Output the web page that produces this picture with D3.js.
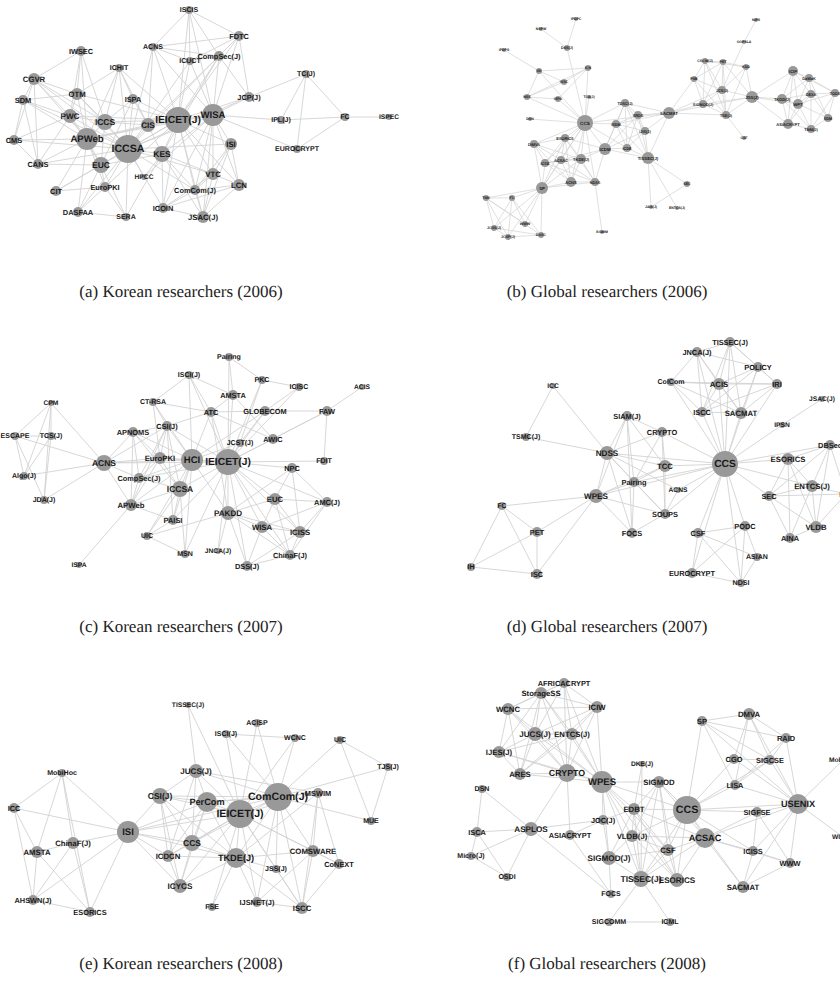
<!DOCTYPE html>
<html lang="en">
  <head>
    <meta charset="UTF-8">
    <title>Venue co-authorship networks</title>
    <style>
      body { margin: 0; background: #fff; }
      .link { stroke: #d2d2d2; stroke-width: 0.9px; fill: none; }
      .node { fill: #999; }
      .label { font-family: "Liberation Sans", Arial, sans-serif; font-weight: bold; fill: #1a1a1a; }
      .caption { font-family: "Liberation Serif", "DejaVu Serif", serif; font-size: 17px; fill: #222; }
    </style>
  </head>
  <body>
    <script src="https://d3js.org/d3.v7.min.js"></script>
    <script>
      // node = [name, x, y, size] in each panel's own layout space (420 x 335)
      const nodesA = [
        ["ISCIS",189,10,4],["ACNS",153,47,4],["IWSEC",81,51,5],["ICHIT",119,68,4],["ICUCT",190,61,4],
        ["CompSec(J)",219,56,5],["FDTC",239,36,5],["CGVR",34,79,6],["OTM",77,94,6],["SDM",23,100,5],
        ["ISPA",133,99,5],["PWC",70,116,7],["ICCS",105,122,8],["CIS",148,125,7],["IEICET(J)",178,120,13],
        ["WISA",213,115,11],["CMS",14,140,5],["APWeb",87,139,11],["ICCSA",128,149,14],["KES",162,154,8],
        ["CANS",38,164,5],["EUC",101,165,8],["HPCC",144,177,3],["EuroPKI",105,187,5],["CIT",56,191,5],
        ["ComCom(J)",195,190,5],["VTC",213,174,6],["ISI",231,144,6],["LCN",239,185,6],["DASFAA",78,212,5],
        ["SERA",126,217,4],["ICOIN",163,208,5],["JSAC(J)",203,217,6],["JCP(J)",249,97,5],["TC(J)",306,74,4],
        ["IPL(J)",281,120,4],["EUROCRYPT",297,149,4],["FC",345,117,4],["ISPEC",389,117,3]
      ];
      const edgesA = [
        "ISCIS: ACNS ICUCT CompSec(J) FDTC IEICET(J) WISA",
        "ACNS: ICUCT CompSec(J) FDTC CIS IEICET(J) WISA ICCSA",
        "FDTC: CompSec(J) JCP(J) IEICET(J) WISA ICUCT",
        "CompSec(J): ICUCT IEICET(J) WISA JCP(J) KES ICCSA CIS",
        "ICUCT: IEICET(J) WISA ICCSA",
        "JCP(J): TC(J) WISA IEICET(J) ICCSA",
        "TC(J): IPL(J) EUROCRYPT FC",
        "IPL(J): WISA FC",
        "FC: EUROCRYPT ISPEC",
        "EUROCRYPT: WISA",
        "WISA: IEICET(J) ICCSA KES ISI VTC LCN ComCom(J) JSAC(J) CIS APWeb ICOIN HPCC",
        "IEICET(J): ICCSA CIS KES APWeb ICCS ISPA ICOIN JSAC(J) ComCom(J) VTC ISI LCN EUC OTM PWC ICHIT EuroPKI",
        "ICCSA: APWeb ICCS EUC EuroPKI SERA DASFAA CIT KES CIS ISPA ICHIT OTM PWC CGVR HPCC ICOIN ComCom(J) VTC ISI CANS SDM CMS",
        "IWSEC: OTM PWC CGVR ICCS APWeb",
        "ICHIT: OTM ICCS ISPA CIS APWeb",
        "CGVR: SDM OTM PWC CMS CANS APWeb ICCS",
        "SDM: OTM PWC CMS CANS APWeb",
        "CMS: PWC APWeb CANS",
        "CANS: APWeb PWC EUC",
        "PWC: OTM ICCS APWeb EUC",
        "OTM: ICCS APWeb",
        "ISPA: CIS ICCS EUC",
        "CIT: APWeb EUC EuroPKI",
        "DASFAA: SERA EUC APWeb EuroPKI",
        "SERA: EuroPKI EUC KES",
        "EuroPKI: EUC APWeb",
        "EUC: APWeb ICCS",
        "KES: ICOIN ComCom(J) VTC JSAC(J) EUC HPCC CIS",
        "ICOIN: ComCom(J) JSAC(J) LCN VTC",
        "ComCom(J): JSAC(J) VTC LCN ISI",
        "JSAC(J): VTC LCN ISI",
        "VTC: ISI LCN",
        "LCN: ISI",
        "CIS: ICCS APWeb",
        "ICCS: APWeb"
      ];

      const nodesB = [
        ["IPDPC",156,19,2],["NSPW",121,29,2],["DSS(J)",147,48,3],["IPDPS",84,50,2],["ISI",119,71,3],
        ["ICN",168,68,3],["ISSC",144,82,3],["NSS",107,97,3],["ISPA",138,99,3],["TCS(J)",169,97,2],
        ["DSN",110,119,2],["CCS",165,123,8],["TDSC(J)",205,103,4],["ISDM",196,124,4],["ESORICS",145,138,4],
        ["DIMVA",114,144,4],["ICDM",185,149,6],["ICDE",207,148,4],["ACSAC",141,160,4],["TKDE(J)",161,159,5],
        ["ICSE",125,163,4],["SP",122,188,6],["ACNS",151,182,5],["NDSS",175,182,4],["SIGMM",182,232,2],
        ["TNN",66,198,3],["FC",92,198,3],["WWW",105,224,3],["JCSS(J)",74,228,3],["JCSP(J)",88,237,3],
        ["DASC",121,235,3],["NIPS",336,20,2],["OOPSLA",324,42,2],["CSCW(J)",285,61,3],["PET",303,62,3],
        ["KDD",326,67,3],["PSB",274,79,3],["JCS(J)",302,90,4],["JSS(J)",332,97,6],["SIGMOD(J)",283,104,4],
        ["SACMAT",249,113,6],["TSE(J)",306,115,4],["CSF",324,138,2],["SRDS",218,115,4],["IJIS(J)",225,131,4],
        ["TISSEC(J)",228,158,6],["SEC",267,184,3],["JAIS(J)",231,207,2],["ENTCS(J)",257,208,2],["ICIP",373,71,5],
        ["DaWaK",389,78,4],["TODS",415,93,4],["DEXA",391,94,4],["TKDD(J)",362,99,5],["WPT",378,104,5],
        ["SDM",408,118,4],["ASIACRYPT",368,124,5],["TMM(J)",391,129,4]
      ];
      const edgesB = [
        "IPDPC: DSS(J)", "NSPW: DSS(J)", "DSS(J): CCS", "IPDPS: ISI",
        "ISI: ICN CCS ISSC NSS", "ICN: ISSC CCS NSS ISPA", "NSS: ISSC ISPA CCS", "ISPA: CCS",
        "TCS(J): CCS", "DSN: CCS",
        "CCS: TDSC(J) ISDM ICDM ICDE ESORICS DIMVA ACSAC TKDE(J) ICSE NDSS ACNS SACMAT SP",
        "TDSC(J): ISDM ICDM ICDE SRDS IJIS(J) SACMAT TISSEC(J)",
        "ISDM: ICDM ICDE SRDS IJIS(J) TISSEC(J) SACMAT",
        "ICDM: ICDE IJIS(J) TISSEC(J) NDSS TKDE(J) ACSAC ESORICS SRDS",
        "ICDE: IJIS(J) TISSEC(J) SRDS", "SRDS: IJIS(J) TISSEC(J) SACMAT", "IJIS(J): TISSEC(J) SACMAT",
        "TISSEC(J): SEC JAIS(J) ENTCS(J) SACMAT", "SEC: JAIS(J)",
        "SACMAT: PSB SIGMOD(J) TSE(J) JSS(J) JCS(J)",
        "PSB: CSCW(J) PET JCS(J) SIGMOD(J) TSE(J)",
        "CSCW(J): PET KDD JCS(J) SIGMOD(J) TSE(J)",
        "PET: KDD JCS(J) JSS(J) TSE(J) SIGMOD(J)",
        "KDD: JSS(J) JCS(J) TSE(J)",
        "JCS(J): SIGMOD(J) TSE(J) JSS(J) OOPSLA",
        "SIGMOD(J): TSE(J) JSS(J)", "TSE(J): JSS(J) CSF", "OOPSLA: NIPS",
        "JSS(J): ICIP TKDD(J) ASIACRYPT WPT",
        "ICIP: DaWaK TKDD(J) WPT DEXA ASIACRYPT TODS",
        "DaWaK: DEXA TODS WPT TKDD(J) SDM",
        "TODS: DEXA SDM TMM(J) WPT",
        "DEXA: TKDD(J) WPT SDM TMM(J) ASIACRYPT",
        "TKDD(J): WPT ASIACRYPT TMM(J)", "WPT: ASIACRYPT TMM(J) SDM", "ASIACRYPT: TMM(J)", "TMM(J): SDM",
        "ESORICS: DIMVA ACSAC TKDE(J) ICSE ACNS NDSS SP",
        "DIMVA: ACSAC ICSE SP ACNS TKDE(J)",
        "ACSAC: TKDE(J) ICSE ACNS NDSS SP",
        "TKDE(J): ICSE ACNS NDSS SP",
        "ICSE: ACNS SP NDSS", "ACNS: NDSS SP", "NDSS: SIGMM SP",
        "SP: TNN FC WWW DASC JCSP(J) JCSS(J)",
        "TNN: FC JCSS(J) WWW DASC JCSP(J)",
        "FC: JCSS(J) JCSP(J) WWW DASC",
        "JCSS(J): JCSP(J) DASC", "JCSP(J): DASC"
      ];

      const nodesC = [
        ["ISCI(J)",189,40,4],["CPM",51,68,3],["CT-RSA",153,67,4],["ATC",211,77,5],["ESCAPE",15,101,4],
        ["TCS(J)",51,101,4],["APNOMS",133,97,5],["CSI(J)",167,91,5],["ACNS",104,128,8],["EuroPKI",160,123,6],
        ["HCI",192,125,11],["IEICET(J)",228,127,13],["Algo(J)",24,141,4],["CompSec(J)",139,143,5],["ICCSA",180,154,8],
        ["JDA(J)",44,165,4],["APWeb",131,170,6],["PAISI",173,185,5],["UIC",147,201,4],["MSN",185,219,4],
        ["ISPA",79,230,3],["Pairing",229,22,4],["PKC",262,45,4],["ICISC",299,52,4],["ACIS",362,52,3],
        ["AMSTA",233,60,5],["GLOBECOM",265,76,5],["FAW",327,76,5],["AWIC",273,104,5],["JCST(J)",240,108,4],
        ["FDIT",324,126,4],["NPC",292,133,5],["EUC",275,164,6],["AMC(J)",327,167,5],["PAKDD",228,178,7],
        ["WISA",262,192,6],["ICISS",300,197,6],["JNCA(J)",218,216,3],["ChinaF(J)",290,220,5],["DSS(J)",247,231,5]
      ];
      const edgesC = [
        "CPM: ESCAPE Algo(J) JDA(J) ACNS TCS(J)",
        "ESCAPE: TCS(J) Algo(J) JDA(J) ACNS",
        "TCS(J): Algo(J) JDA(J)", "Algo(J): ACNS", "JDA(J): ACNS",
        "ACNS: APNOMS EuroPKI HCI CompSec(J) APWeb CSI(J) IEICET(J)",
        "ISPA: APWeb",
        "ISCI(J): CT-RSA HCI IEICET(J) ATC AMSTA",
        "CT-RSA: CSI(J) ATC HCI EuroPKI",
        "ATC: HCI IEICET(J) CSI(J) PAKDD AWIC GLOBECOM",
        "APNOMS: CSI(J) EuroPKI HCI CompSec(J) APWeb ICCSA",
        "CSI(J): EuroPKI HCI IEICET(J) ICCSA CompSec(J) APWeb PAISI",
        "EuroPKI: HCI CompSec(J) APWeb ICCSA IEICET(J)",
        "HCI: IEICET(J) ICCSA CompSec(J) APWeb PAISI MSN UIC PAKDD GLOBECOM JCST(J)",
        "IEICET(J): Pairing AMSTA PKC GLOBECOM JCST(J) AWIC ICISC FAW FDIT NPC EUC AMC(J) PAKDD WISA ICISS ChinaF(J) DSS(J) JNCA(J) ICCSA CompSec(J) PAISI MSN",
        "Pairing: PKC AMSTA", "PKC: ICISC JCST(J)", "ICISC: GLOBECOM", "ACIS: FAW",
        "FAW: GLOBECOM FDIT AWIC", "AMSTA: AWIC ATC", "GLOBECOM: JCST(J)",
        "NPC: EUC AMC(J) ICISS PAKDD",
        "EUC: AMC(J) ICISS WISA PAKDD ChinaF(J)",
        "AMC(J): ICISS WISA ChinaF(J)",
        "PAKDD: WISA ICISS DSS(J) JNCA(J) ChinaF(J)",
        "WISA: ICISS DSS(J) ChinaF(J)", "ICISS: ChinaF(J) DSS(J)", "DSS(J): ChinaF(J)",
        "ICCSA: PAISI MSN UIC APWeb CompSec(J)",
        "UIC: MSN PAISI PAKDD", "APWeb: PAISI CompSec(J)"
      ];

      const nodesD = [
        ["ICC",133,51,3],["SIAM(J)",207,81,5],["TSMC(J)",106,102,4],["NDSS",187,118,7],["Pairing",214,147,5],
        ["WPES",176,161,7],["FC",82,171,4],["PET",117,197,5],["IH",51,232,4],["ISC",117,239,5],
        ["FOCS",212,198,5],["TISSEC(J)",310,7,5],["JNCA(J)",277,17,5],["POLICY",338,32,5],["ColCom",251,47,4],
        ["ACIS",299,49,6],["IRI",357,49,5],["ISCC",282,77,5],["SACMAT",321,78,6],["JSAC(J)",402,64,3],
        ["CRYPTO",242,97,5],["IPSN",362,90,3],["DBSec",410,110,5],["CCS",305,129,13],["ESORICS",368,124,6],
        ["TCC",245,131,6],["ACNS",258,155,3],["ENTCS(J)",392,151,6],["SEC",349,161,5],["IFIP",426,159,5],
        ["SOUPS",245,179,5],["PODC",325,191,5],["CSF",278,198,5],["VLDB",396,192,6],["AINA",370,203,5],
        ["ASIAN",337,222,4],["EUROCRYPT",272,238,5],["NDSI",321,248,4]
      ];
      const edgesD = [
        "ICC: TSMC(J) NDSS", "TSMC(J): NDSS",
        "NDSS: SIAM(J) CRYPTO TCC Pairing WPES FOCS SOUPS CCS ACNS",
        "SIAM(J): CRYPTO TCC Pairing WPES FOCS",
        "WPES: FC PET ISC Pairing TCC SOUPS FOCS CCS",
        "FC: PET IH ISC", "PET: IH ISC", "IH: ISC",
        "CRYPTO: TCC Pairing SOUPS CCS", "TCC: Pairing SOUPS CCS",
        "Pairing: FOCS SOUPS CCS", "SOUPS: CCS FOCS ACNS", "ACNS: CCS",
        "CCS: JNCA(J) TISSEC(J) ColCom ACIS ISCC SACMAT POLICY IRI IPSN ESORICS SEC ENTCS(J) DBSec CSF PODC NDSI EUROCRYPT",
        "TISSEC(J): JNCA(J) POLICY ACIS ISCC SACMAT IRI",
        "JNCA(J): POLICY ColCom ACIS ISCC SACMAT",
        "POLICY: ACIS IRI SACMAT ISCC", "ColCom: ACIS ISCC SACMAT IRI",
        "ACIS: IRI ISCC SACMAT", "IRI: SACMAT ISCC", "ISCC: SACMAT",
        "IPSN: JSAC(J)",
        "ESORICS: DBSec ENTCS(J) SEC VLDB AINA",
        "DBSec: ENTCS(J) SEC VLDB IFIP", "ENTCS(J): SEC VLDB AINA IFIP",
        "SEC: VLDB AINA IFIP", "VLDB: AINA IFIP",
        "CSF: PODC ASIAN EUROCRYPT NDSI", "PODC: ASIAN EUROCRYPT NDSI",
        "ASIAN: NDSI", "EUROCRYPT: NDSI"
      ];

      const nodesE = [
        ["TISSEC(J)",188,35,3],["MobiHoc",62,103,4],["JUCS(J)",196,101,7],["ICC",14,138,5],["CSI(J)",160,126,8],
        ["PerCom",207,132,10],["ISI",128,162,11],["ChinaF(J)",73,173,6],["AMSTA",37,182,6],["CCS",192,173,8],
        ["ICDCN",168,186,6],["ICYCS",180,216,7],["AHSWN(J)",33,230,5],["ESORICS",90,242,5],["FSE",212,237,4],
        ["ACISP",257,53,4],["ISCI(J)",226,64,4],["WCNC",295,68,4],["UIC",340,70,4],["TJS(J)",388,97,4],
        ["ComCom(J)",278,127,14],["MSWIM",318,123,5],["IEICET(J)",240,144,14],["MUE",371,151,4],["COMSWARE",313,181,6],
        ["TKDE(J)",236,188,10],["CoNEXT",339,194,5],["JSS(J)",276,199,4],["IJSNET(J)",257,232,5],["ISCC",302,238,6]
      ];
      const edgesE = [
        "MobiHoc: ICC AMSTA ChinaF(J) ISI ESORICS",
        "ICC: ISI AMSTA AHSWN(J)",
        "AMSTA: ChinaF(J) AHSWN(J) ESORICS",
        "ChinaF(J): ISI AHSWN(J) ESORICS",
        "AHSWN(J): ESORICS ISI", "ESORICS: ISI",
        "ISI: CSI(J) PerCom IEICET(J) CCS ICDCN ICYCS TKDE(J) ComCom(J)",
        "TISSEC(J): JUCS(J) IEICET(J)",
        "JUCS(J): CSI(J) PerCom IEICET(J) CCS ComCom(J) ICDCN MSWIM",
        "CSI(J): PerCom IEICET(J) CCS ICDCN ICYCS ComCom(J) TKDE(J)",
        "PerCom: IEICET(J) CCS ICDCN ComCom(J) TKDE(J) ICYCS MSWIM",
        "IEICET(J): ComCom(J) TKDE(J) ISCI(J) ACISP CCS ICDCN ICYCS FSE JSS(J) IJSNET(J) ISCC COMSWARE MSWIM WCNC CoNEXT",
        "ComCom(J): ISCI(J) ACISP WCNC UIC MSWIM MUE COMSWARE TKDE(J) ISCC JSS(J) IJSNET(J) TJS(J) CCS",
        "ISCI(J): WCNC", "UIC: TJS(J) MUE", "TJS(J): MUE",
        "MSWIM: COMSWARE ISCC CoNEXT TKDE(J)",
        "COMSWARE: CoNEXT ISCC TKDE(J) IJSNET(J)", "CoNEXT: ISCC",
        "TKDE(J): JSS(J) IJSNET(J) ISCC FSE ICYCS CCS ICDCN",
        "IJSNET(J): ISCC", "JSS(J): ISCC", "CCS: ICDCN ICYCS", "ICDCN: ICYCS"
      ];

      const nodesF = [
        ["AFRICACRYPT",144,13,5],["StorageSS",121,23,6],["WCNC",88,39,6],["ICIW",177,37,6],["JUCS(J)",115,64,7],
        ["ENTCS(J)",152,64,6],["IJES(J)",79,82,6],["ARES",100,104,6],["CRYPTO",147,103,9],["WPES",182,112,11],
        ["DSN",62,119,4],["JOC(J)",183,150,5],["ISCA",57,162,5],["ASPLOS",111,159,7],["ASIACRYPT",150,165,5],
        ["Micro(J)",51,186,4],["SIGMOD(J)",189,188,7],["OSDI",87,207,4],["FOCS",191,224,4],["SIGCOMM",189,252,4],
        ["DMVA",329,44,6],["SP",282,51,5],["RAID",366,68,5],["DKE(J)",222,94,3],["CGO",314,89,5],
        ["SIGCSE",350,90,5],["MobiHoc",423,90,3],["SIGMOD",239,112,6],["LISA",315,115,5],["USENIX",378,134,10],
        ["CCS",267,140,14],["EDBT",214,139,6],["SIGFSE",337,142,5],["VLDB(J)",212,166,6],["ACSAC",285,168,10],
        ["WISEC",423,167,3],["CSF",248,180,6],["ICISS",333,181,5],["WWW",370,193,5],["TISSEC(J)",221,209,8],
        ["ESORICS",257,210,7],["SACMAT",323,217,6],["ICML",250,252,4]
      ];
      const edgesF = [
        "AFRICACRYPT: StorageSS ICIW JUCS(J) ENTCS(J) WCNC CRYPTO WPES",
        "StorageSS: WCNC ICIW JUCS(J) ENTCS(J) ARES CRYPTO WPES IJES(J)",
        "WCNC: ICIW JUCS(J) IJES(J) ARES CRYPTO WPES",
        "ICIW: JUCS(J) ENTCS(J) CRYPTO WPES ARES",
        "JUCS(J): ENTCS(J) IJES(J) ARES CRYPTO WPES",
        "ENTCS(J): ARES CRYPTO WPES IJES(J)",
        "IJES(J): ARES CRYPTO WPES", "ARES: CRYPTO WPES",
        "CRYPTO: WPES ASPLOS ASIACRYPT",
        "DSN: ISCA ASPLOS", "ISCA: ASPLOS Micro(J) OSDI", "Micro(J): OSDI ASPLOS", "OSDI: ASPLOS",
        "ASPLOS: JOC(J) FOCS", "ASIACRYPT: FOCS JOC(J)",
        "WPES: JOC(J) SIGMOD(J) EDBT VLDB(J) CCS SIGMOD CSF TISSEC(J) ESORICS",
        "JOC(J): SIGMOD(J) EDBT",
        "SIGMOD(J): FOCS TISSEC(J) VLDB(J) CSF EDBT",
        "SIGCOMM: ICML TISSEC(J)", "ICML: TISSEC(J)", "DKE(J): TISSEC(J) EDBT",
        "CCS: SP LISA SIGMOD EDBT VLDB(J) CSF ACSAC ESORICS TISSEC(J) USENIX SIGFSE ICISS SACMAT CGO SIGCSE",
        "SP: DMVA RAID LISA SIGCSE USENIX",
        "DMVA: RAID CGO SIGCSE LISA USENIX",
        "RAID: SIGCSE USENIX LISA", "CGO: USENIX SIGCSE", "LISA: USENIX SIGCSE", "SIGCSE: USENIX",
        "USENIX: MobiHoc WISEC SIGFSE ICISS WWW SACMAT ACSAC",
        "SIGFSE: ICISS WWW ACSAC", "ICISS: WWW SACMAT ACSAC", "SACMAT: ACSAC WWW",
        "ACSAC: WWW CSF ESORICS TISSEC(J) EDBT VLDB(J) SIGMOD",
        "SIGMOD: EDBT VLDB(J) CSF TISSEC(J) ESORICS",
        "EDBT: VLDB(J) CSF TISSEC(J) ESORICS",
        "VLDB(J): CSF TISSEC(J) ESORICS", "CSF: TISSEC(J) ESORICS", "TISSEC(J): ESORICS"
      ];

      const captions = [
        "(a) Korean researchers (2006)", "(b) Global researchers (2006)",
        "(c) Korean researchers (2007)", "(d) Global researchers (2007)",
        "(e) Korean researchers (2008)", "(f) Global researchers (2008)"
      ];
      const labelScales = [1, 0.55, 1, 1, 1, 1];

      const W = 840, H = 1003;
      const panelW = 420, panelH = 335;

      const svg = d3.select("body").append("svg")
        .attr("width", W)
        .attr("height", H)
        .attr("text-rendering", "geometricPrecision");

      const panels = [
        { nodes: nodesA, edges: edgesA },
        { nodes: nodesB, edges: edgesB },
        { nodes: nodesC, edges: edgesC },
        { nodes: nodesD, edges: edgesD },
        { nodes: nodesE, edges: edgesE },
        { nodes: nodesF, edges: edgesF }
      ];

      panels.forEach((p, i) => {
        const col = i % 2, row = Math.floor(i / 2);
        const x = d3.scaleLinear().domain([0, panelW]).range([col * panelW, (col + 1) * panelW]);
        const y = d3.scaleLinear().domain([0, panelH]).range([row * panelH, (row + 1) * panelH]);
        const r = d3.scaleLinear().domain([0, 14]).range([0, 14]);
        const ls = labelScales[i];

        const byName = new Map(p.nodes.map(d => [d[0], d]));
        // parse adjacency strings into unique links
        const seen = new Set();
        const links = [];
        p.edges.forEach(s => {
          const [src, rest] = s.split(":");
          rest.trim().split(/\s+/).forEach(t => {
            const key = [src.trim(), t].sort().join("|");
            if (!seen.has(key) && byName.has(src.trim()) && byName.has(t)) {
              seen.add(key);
              links.push({ source: byName.get(src.trim()), target: byName.get(t) });
            }
          });
        });

        const g = svg.append("g");

        g.selectAll("line.link")
          .data(links)
          .enter()
          .append("line")
          .attr("class", "link")
          .attr("x1", d => x(d.source[1]))
          .attr("y1", d => y(d.source[2]))
          .attr("x2", d => x(d.target[1]))
          .attr("y2", d => y(d.target[2]))
          .style("stroke-width", i === 1 ? 0.7 : 0.9);

        g.selectAll("circle.node")
          .data(p.nodes)
          .enter()
          .append("circle")
          .attr("class", "node")
          .attr("cx", d => x(d[1]))
          .attr("cy", d => y(d[2]))
          .attr("r", d => r(d[3]));

        g.selectAll("text.label")
          .data(p.nodes)
          .enter()
          .append("text")
          .attr("class", "label")
          .attr("x", d => x(d[1]))
          .attr("y", d => y(d[2]))
          .attr("text-anchor", "middle")
          .attr("dominant-baseline", "central")
          .style("font-size", d => ((5.6 + 0.36 * d[3]) * ls) + "px")
          .text(d => d[0]);

        svg.append("text")
          .attr("class", "caption")
          .attr("x", col === 0 ? 181 : 607)
          .attr("y", [291, 626, 963][row])
          .attr("text-anchor", "middle")
          .attr("dominant-baseline", "central")
          .text(captions[i]);
      });
    </script>
  </body>
</html>
